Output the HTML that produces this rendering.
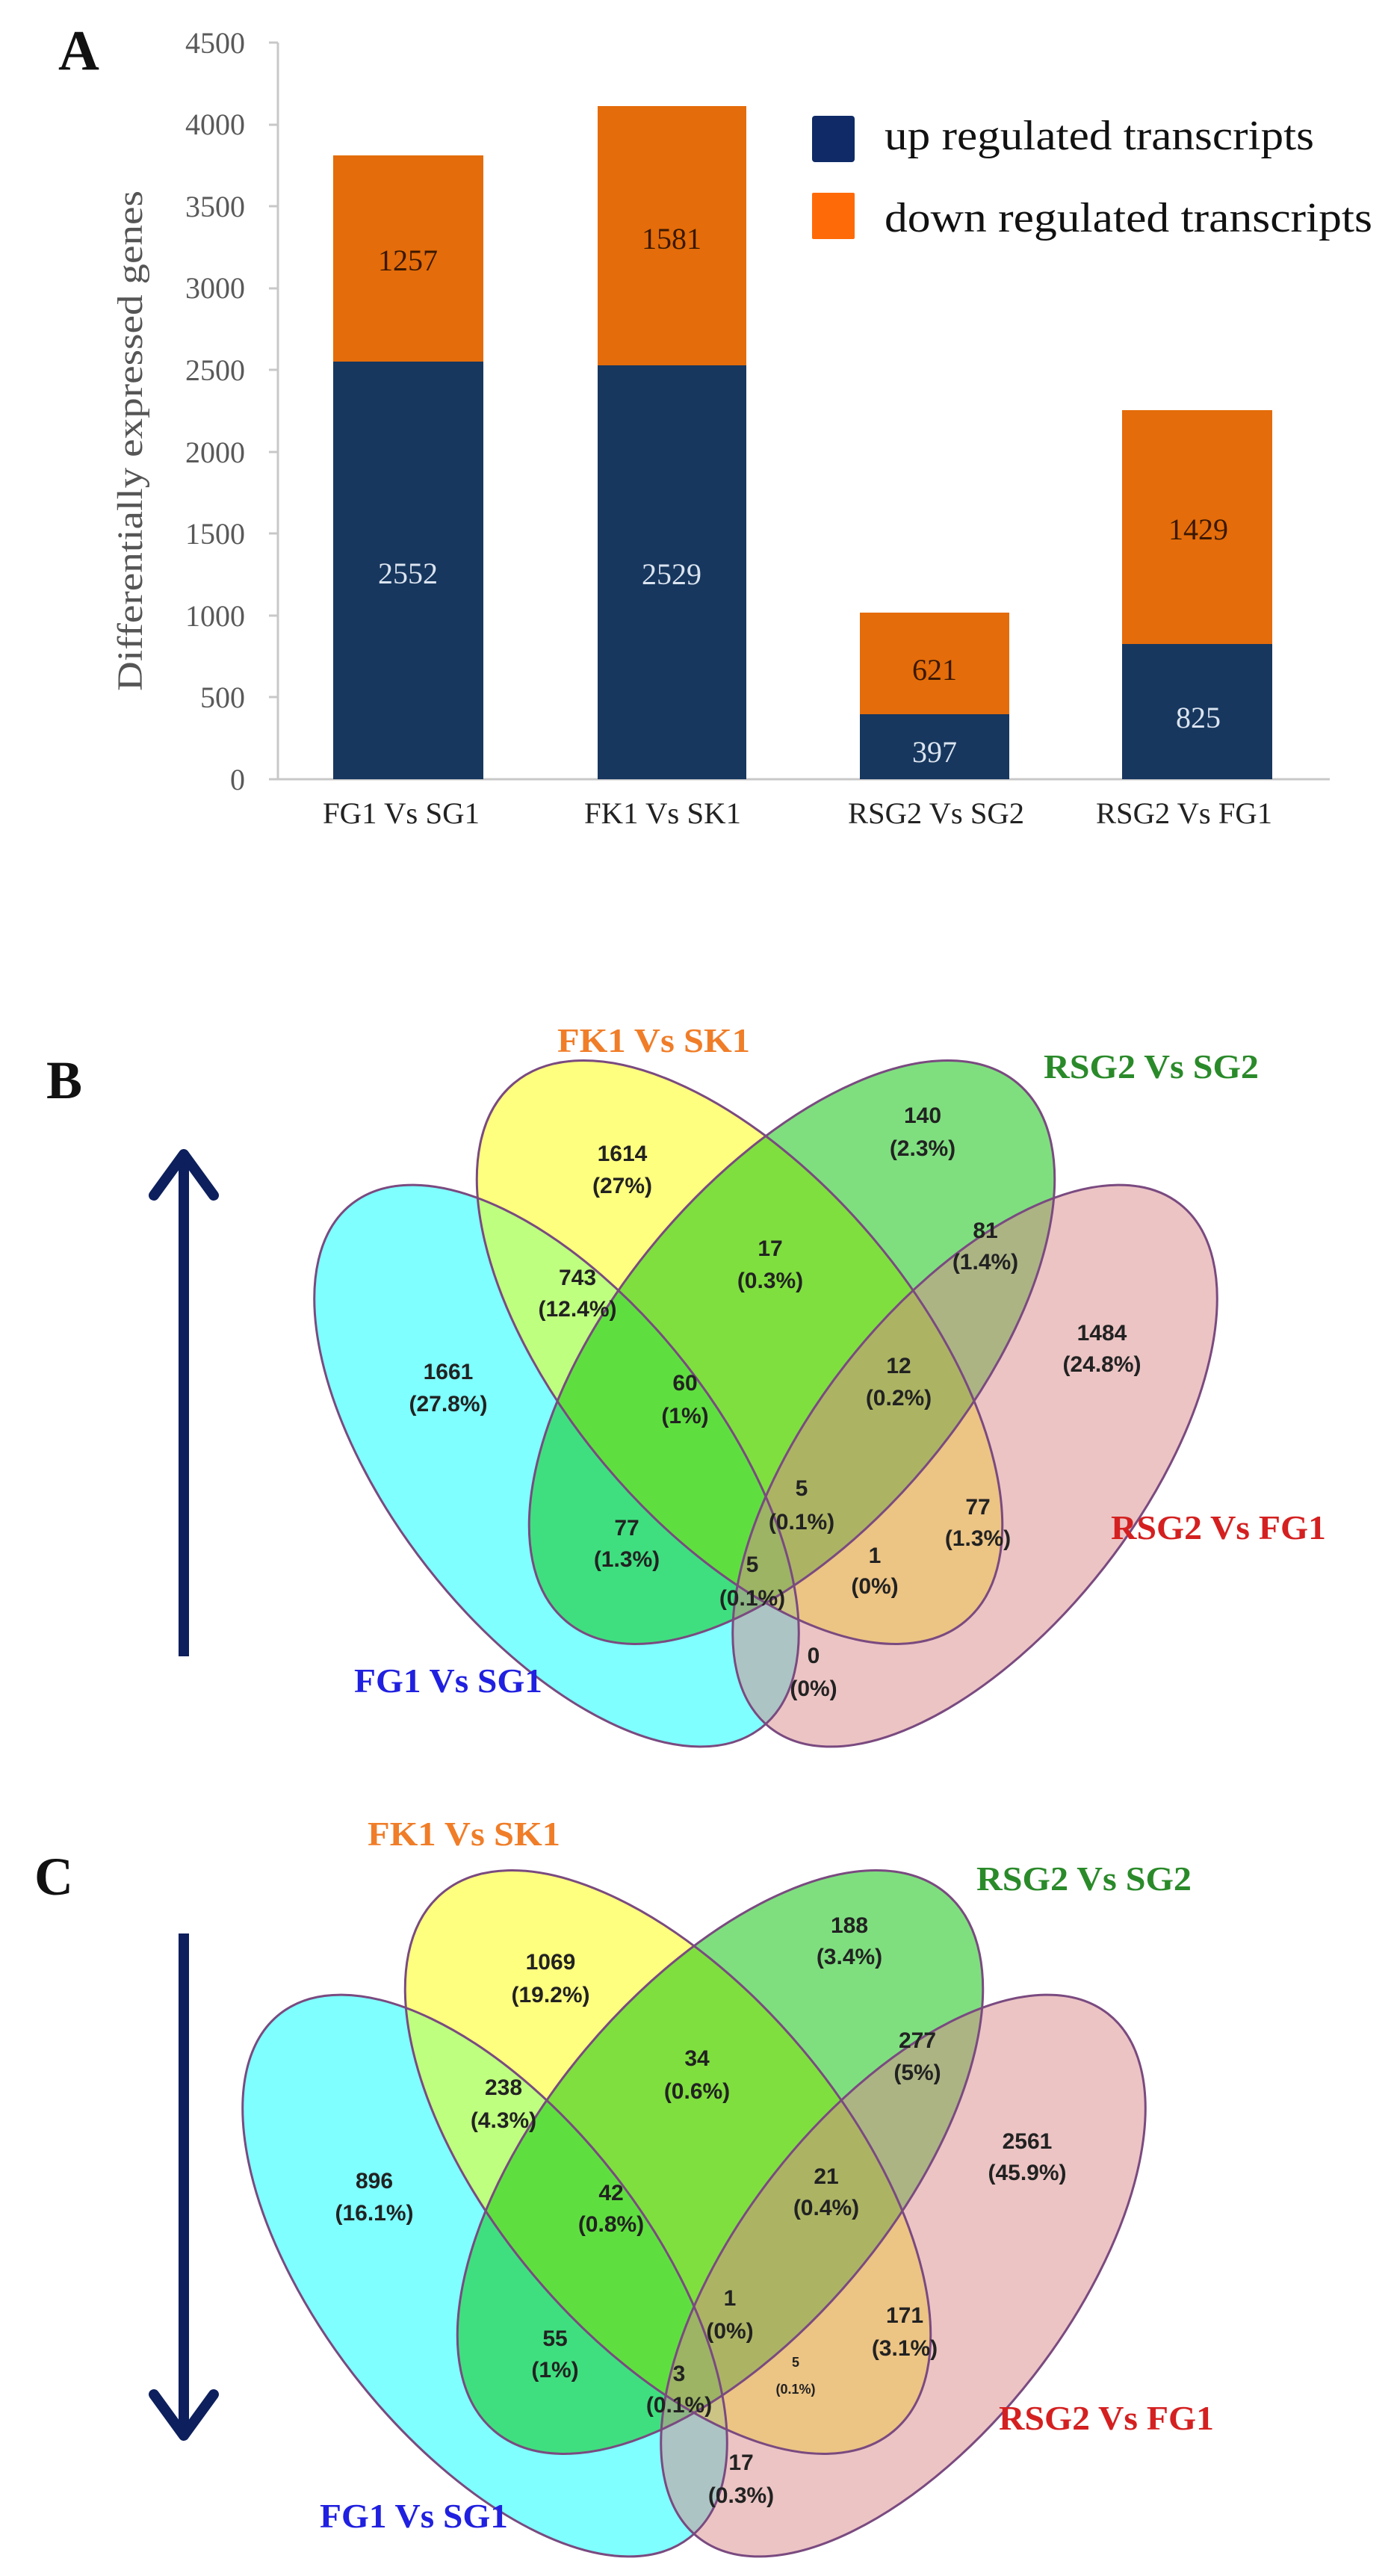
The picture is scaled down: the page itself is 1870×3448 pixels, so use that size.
<!DOCTYPE html>
<html><head><meta charset="utf-8"><style>
html,body{margin:0;padding:0;background:#fff;}
svg{display:block;}
</style></head><body>
<svg width="1870" height="3448" viewBox="0 0 1870 3448" xmlns="http://www.w3.org/2000/svg">
<rect width="1870" height="3448" fill="#fff"/>

<!-- ===== Panel A ===== -->
<text x="78" y="93" font-family="Liberation Serif" font-weight="bold" font-size="76" fill="#111">A</text>
<g font-family="Liberation Serif" font-size="40" fill="#595959" text-anchor="end">
<text x="328" y="1057">0</text>
<text x="328" y="947">500</text>
<text x="328" y="838">1000</text>
<text x="328" y="728">1500</text>
<text x="328" y="619">2000</text>
<text x="328" y="509">2500</text>
<text x="328" y="399">3000</text>
<text x="328" y="290">3500</text>
<text x="328" y="180">4000</text>
<text x="328" y="71">4500</text>
</g>
<g stroke="#c8c8c8" stroke-width="3">
<line x1="372" y1="57" x2="372" y2="1043"/>
<line x1="360" y1="1043" x2="1780" y2="1043"/>
<line x1="360" y1="57" x2="372" y2="57"/><line x1="360" y1="167" x2="372" y2="167"/>
<line x1="360" y1="276" x2="372" y2="276"/><line x1="360" y1="386" x2="372" y2="386"/>
<line x1="360" y1="495" x2="372" y2="495"/><line x1="360" y1="605" x2="372" y2="605"/>
<line x1="360" y1="714" x2="372" y2="714"/><line x1="360" y1="824" x2="372" y2="824"/>
<line x1="360" y1="933" x2="372" y2="933"/>
</g>
<text transform="translate(190,590) rotate(-90)" font-family="Liberation Serif" font-size="48" fill="#555" text-anchor="middle" textLength="670" lengthAdjust="spacingAndGlyphs">Differentially expressed genes</text>

<g>
<rect x="446" y="208" width="201" height="276" fill="#e46c0a"/>
<rect x="446" y="484" width="201" height="559" fill="#17375e"/>
<rect x="800" y="142" width="199" height="347" fill="#e46c0a"/>
<rect x="800" y="489" width="199" height="554" fill="#17375e"/>
<rect x="1151" y="820" width="200" height="136" fill="#e46c0a"/>
<rect x="1151" y="956" width="200" height="87" fill="#17375e"/>
<rect x="1502" y="549" width="201" height="313" fill="#e46c0a"/>
<rect x="1502" y="862" width="201" height="181" fill="#17375e"/>
</g>
<g font-family="Liberation Serif" font-size="40" text-anchor="middle">
<text x="546" y="362" fill="#3a1800">1257</text>
<text x="546" y="781" fill="#dbe4f0">2552</text>
<text x="899" y="333" fill="#3a1800">1581</text>
<text x="899" y="782" fill="#dbe4f0">2529</text>
<text x="1251" y="910" fill="#3a1800">621</text>
<text x="1251" y="1020" fill="#dbe4f0">397</text>
<text x="1604" y="722" fill="#3a1800">1429</text>
<text x="1604" y="974" fill="#dbe4f0">825</text>
</g>
<g font-family="Liberation Serif" font-size="40" fill="#222" text-anchor="middle">
<text x="537" y="1102" textLength="210" lengthAdjust="spacingAndGlyphs">FG1  Vs  SG1</text>
<text x="887" y="1102" textLength="210" lengthAdjust="spacingAndGlyphs">FK1  Vs  SK1</text>
<text x="1253" y="1102" textLength="236" lengthAdjust="spacingAndGlyphs">RSG2  Vs  SG2</text>
<text x="1585" y="1102" textLength="236" lengthAdjust="spacingAndGlyphs">RSG2  Vs  FG1</text>
</g>
<rect x="1087" y="155" width="57" height="62" rx="4" fill="#0f2a66"/>
<rect x="1087" y="258" width="57" height="62" rx="2" fill="#ff6a08"/>
<g font-family="Liberation Serif" font-size="56" fill="#111">
<text x="1184" y="200" textLength="575" lengthAdjust="spacingAndGlyphs">up regulated  transcripts</text>
<text x="1184" y="310" textLength="653" lengthAdjust="spacingAndGlyphs">down regulated  transcripts</text>
</g>

<defs>
<g id="venn">
<ellipse cx="745" cy="1962" rx="220" ry="445" transform="rotate(-38 745 1962)" fill="#00ffff" fill-opacity="0.5"/>
<ellipse cx="990" cy="1810" rx="235" ry="470" transform="rotate(-40 990 1810)" fill="#ffff00" fill-opacity="0.5"/>
<ellipse cx="1060" cy="1810" rx="235" ry="470" transform="rotate(40 1060 1810)" fill="#00c000" fill-opacity="0.5"/>
<ellipse cx="1305" cy="1962" rx="220" ry="445" transform="rotate(38 1305 1962)" fill="#d98989" fill-opacity="0.5"/>
<g fill="none" stroke="#7a4a80" stroke-width="3">
<ellipse cx="745" cy="1962" rx="220" ry="445" transform="rotate(-38 745 1962)"/>
<ellipse cx="990" cy="1810" rx="235" ry="470" transform="rotate(-40 990 1810)"/>
<ellipse cx="1060" cy="1810" rx="235" ry="470" transform="rotate(40 1060 1810)"/>
<ellipse cx="1305" cy="1962" rx="220" ry="445" transform="rotate(38 1305 1962)"/>
</g>
</g>
</defs>

<!-- ===== Panel B ===== -->
<use href="#venn"/>
<text x="62" y="1470" font-family="Liberation Serif" font-weight="bold" font-size="72" fill="#111">B</text>
<line x1="246" y1="1555" x2="246" y2="2217" stroke="#0d1f5c" stroke-width="14"/>
<polyline points="206,1600 246,1545 286,1600" fill="none" stroke="#0d1f5c" stroke-width="14" stroke-linecap="round" stroke-linejoin="round"/>
<g font-family="Liberation Serif" font-weight="bold" font-size="46" text-anchor="middle">
<text x="875" y="1408" fill="#f07d28" textLength="258" lengthAdjust="spacingAndGlyphs">FK1 Vs SK1</text>
<text x="1541" y="1443" fill="#2a8a2a" textLength="288" lengthAdjust="spacingAndGlyphs">RSG2 Vs SG2</text>
<text x="1631" y="2060" fill="#d42020" textLength="288" lengthAdjust="spacingAndGlyphs">RSG2 Vs FG1</text>
<text x="600" y="2265" fill="#2020e0" textLength="252" lengthAdjust="spacingAndGlyphs">FG1 Vs SG1</text>
</g>
<g font-family="Liberation Sans" font-weight="bold" font-size="30" fill="#222" text-anchor="middle">
<text x="833" y="1554">1614</text><text x="833" y="1597">(27%)</text>
<text x="1235" y="1503">140</text><text x="1235" y="1547">(2.3%)</text>
<text x="773" y="1720">743</text><text x="773" y="1762">(12.4%)</text>
<text x="1031" y="1681">17</text><text x="1031" y="1724">(0.3%)</text>
<text x="1319" y="1657">81</text><text x="1319" y="1699">(1.4%)</text>
<text x="600" y="1846">1661</text><text x="600" y="1889">(27.8%)</text>
<text x="917" y="1861">60</text><text x="917" y="1905">(1%)</text>
<text x="1203" y="1838">12</text><text x="1203" y="1881">(0.2%)</text>
<text x="1475" y="1794">1484</text><text x="1475" y="1836">(24.8%)</text>
<text x="1073" y="2002">5</text><text x="1073" y="2047">(0.1%)</text>
<text x="839" y="2055">77</text><text x="839" y="2097">(1.3%)</text>
<text x="1309" y="2027">77</text><text x="1309" y="2069">(1.3%)</text>
<text x="1007" y="2104">5</text><text x="1007" y="2149">(0.1%)</text>
<text x="1171" y="2092">1</text><text x="1171" y="2133">(0%)</text>
<text x="1089" y="2226">0</text><text x="1089" y="2270">(0%)</text>
</g>

<!-- ===== Panel C ===== -->
<use href="#venn" transform="translate(-96,1084)"/>
<text x="46" y="2536" font-family="Liberation Serif" font-weight="bold" font-size="72" fill="#111">C</text>
<line x1="246" y1="2588" x2="246" y2="3250" stroke="#0d1f5c" stroke-width="14"/>
<polyline points="206,3205 246,3260 286,3205" fill="none" stroke="#0d1f5c" stroke-width="14" stroke-linecap="round" stroke-linejoin="round"/>
<g font-family="Liberation Serif" font-weight="bold" font-size="46" text-anchor="middle">
<text x="621" y="2470" fill="#f07d28" textLength="258" lengthAdjust="spacingAndGlyphs">FK1 Vs SK1</text>
<text x="1451" y="2530" fill="#2a8a2a" textLength="288" lengthAdjust="spacingAndGlyphs">RSG2 Vs SG2</text>
<text x="1481" y="3252" fill="#d42020" textLength="288" lengthAdjust="spacingAndGlyphs">RSG2 Vs FG1</text>
<text x="554" y="3383" fill="#2020e0" textLength="252" lengthAdjust="spacingAndGlyphs">FG1 Vs SG1</text>
</g>
<g font-family="Liberation Sans" font-weight="bold" font-size="30" fill="#222" text-anchor="middle">
<text x="737" y="2636">1069</text><text x="737" y="2680">(19.2%)</text>
<text x="1137" y="2587">188</text><text x="1137" y="2629">(3.4%)</text>
<text x="674" y="2804">238</text><text x="674" y="2848">(4.3%)</text>
<text x="933" y="2765">34</text><text x="933" y="2809">(0.6%)</text>
<text x="1228" y="2741">277</text><text x="1228" y="2784">(5%)</text>
<text x="501" y="2929">896</text><text x="501" y="2972">(16.1%)</text>
<text x="818" y="2945">42</text><text x="818" y="2987">(0.8%)</text>
<text x="1106" y="2923">21</text><text x="1106" y="2965">(0.4%)</text>
<text x="1375" y="2876">2561</text><text x="1375" y="2918">(45.9%)</text>
<text x="977" y="3086">1</text><text x="977" y="3130">(0%)</text>
<text x="743" y="3140">55</text><text x="743" y="3182">(1%)</text>
<text x="1211" y="3109">171</text><text x="1211" y="3153">(3.1%)</text>
<text x="909" y="3187">3</text><text x="909" y="3229">(0.1%)</text>
<text x="992" y="3306">17</text><text x="992" y="3350">(0.3%)</text>
</g>
<g font-family="Liberation Sans" font-weight="bold" font-size="18" fill="#222" text-anchor="middle">
<text x="1065" y="3168">5</text><text x="1065" y="3204">(0.1%)</text>
</g>
</svg>
</body></html>
